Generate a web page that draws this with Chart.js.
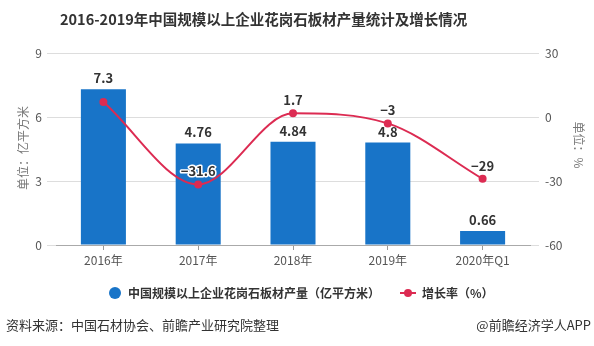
<!DOCTYPE html>
<html><head><meta charset="utf-8">
<script src="https://cdn.jsdelivr.net/npm/chart.js@4/dist/chart.umd.min.js"></script>
<style>html,body{margin:0;padding:0;background:#fff;}#wrap{width:594px;height:346px;position:relative;}</style>
</head><body><div id="wrap"><canvas id="c" width="594" height="346"></canvas></div>
<script>
const categories = ['2016年', '2017年', '2018年', '2019年', '2020年Q1'];
const output = [7.3, 4.76, 4.84, 4.8, 0.66];
const growth = [7, -31.6, 1.7, -3, -29];
const growthLabels = [null, '−31.6', '1.7', '−3', '−29'];
const leftTicks = [0, 3, 6, 9];
const rightTicks = [-60, -30, 0, 30];
const titleText = '2016-2019年中国规模以上企业花岗石板材产量统计及增长情况';
const seriesNames = ['中国规模以上企业花岗石板材产量（亿平方米）', '增长率（%）'];
const sourceText = '资料来源：中国石材协会、前瞻产业研究院整理';
const brandText = '@前瞻经济学人APP';

const BLUE = '#1874c8', RED = '#dc2b52';
const FONT = '"Noto Sans CJK SC", "Microsoft YaHei", sans-serif';

const decor = {
  id: 'decor',
  afterDatasetsDraw(chart) {
    const ctx = chart.ctx;
    ctx.save();
    const mb = chart.getDatasetMeta(1);
    ctx.font = 'bold 13px ' + FONT;
    ctx.fillStyle = '#333';
    ctx.textAlign = 'center';
    ctx.textBaseline = 'alphabetic';
    mb.data.forEach((el, i) => {
      ctx.fillText(String(output[i]), el.x, el.y - 6);
    });
    const ml = chart.getDatasetMeta(0);
    ml.data.forEach((el, i) => {
      const t = growthLabels[i];
      if (!t) return;
      ctx.textBaseline = 'middle';
      ctx.lineWidth = 3;
      ctx.strokeStyle = '#fff';
      ctx.lineJoin = 'round';
      ctx.strokeText(t, el.x, el.y - 13);
      ctx.fillStyle = '#333';
      ctx.fillText(t, el.x, el.y - 13);
    });
    ctx.restore();
  },
  afterDraw(chart) {
    const ctx = chart.ctx;
    ctx.save();
    ctx.fillStyle = '#333';
    ctx.font = 'bold 14.5px ' + FONT;
    ctx.textAlign = 'left';
    ctx.textBaseline = 'middle';
    ctx.fillText(titleText, 60, 19);
    ctx.fillStyle = '#777';
    ctx.font = '12px ' + FONT;
    ctx.save();
    ctx.translate(23, 148);
    ctx.rotate(-Math.PI / 2);
    ctx.textAlign = 'center';
    ctx.fillText('单位：亿平方米', 0, 0);
    ctx.restore();
    ctx.save();
    ctx.translate(579, 145);
    ctx.rotate(Math.PI / 2);
    ctx.textAlign = 'center';
    ctx.fillText('单位：%', 0, 0);
    ctx.restore();
    ctx.fillStyle = BLUE;
    ctx.beginPath(); ctx.arc(115, 293, 6, 0, Math.PI * 2); ctx.fill();
    ctx.fillStyle = '#333';
    ctx.font = 'bold 12px ' + FONT;
    ctx.textAlign = 'left';
    ctx.fillText(seriesNames[0], 128, 293);
    ctx.strokeStyle = RED; ctx.lineWidth = 2;
    ctx.beginPath(); ctx.moveTo(400, 293); ctx.lineTo(416, 293); ctx.stroke();
    ctx.fillStyle = RED;
    ctx.beginPath(); ctx.arc(408, 293, 4, 0, Math.PI * 2); ctx.fill();
    ctx.fillStyle = '#333';
    ctx.fillText(seriesNames[1], 422, 293);
    ctx.font = '13px ' + FONT;
    ctx.fillStyle = '#333';
    ctx.fillText(sourceText, 6, 325);
    ctx.textAlign = 'right';
    ctx.fillText(brandText, 591, 325);
    ctx.restore();
  }
};

new Chart(document.getElementById('c'), {
  data: {
    labels: categories,
    datasets: [
      {
        type: 'line', label: seriesNames[1], data: growth, yAxisID: 'y1', order: 0,
        borderColor: RED, backgroundColor: RED, borderWidth: 2, cubicInterpolationMode: 'monotone',
        pointRadius: 4, pointBackgroundColor: RED, pointBorderWidth: 0, clip: false
      },
      {
        type: 'bar', label: seriesNames[0], data: output, yAxisID: 'y', order: 1,
        backgroundColor: BLUE, categoryPercentage: 1, barPercentage: 0.475
      }
    ]
  },
  options: {
    responsive: false, animation: false, devicePixelRatio: 1,
    layout: { padding: { left: 0, right: 0, top: 53, bottom: 0 } },
    plugins: { legend: { display: false }, tooltip: { enabled: false }, title: { display: false } },
    scales: {
      x: {
        offset: true,
        grid: { offset: false, drawOnChartArea: false, drawTicks: true, tickLength: 5, color: '#999' },
        border: { display: true, color: '#aaa' },
        ticks: { color: '#555', font: { size: 12, family: FONT }, padding: 3 },
        afterFit(s) { s.height = 101; }
      },
      y: {
        position: 'left', min: 0, max: 9,
        afterBuildTicks(s) { s.ticks = leftTicks.map(v => ({ value: v })); },
        grid: { color: '#ddd', tickLength: 9 },
        border: { display: false },
        ticks: { color: '#555', font: { size: 12, family: FONT }, padding: 5 },
        afterFit(s) { s.width = 56; }
      },
      y1: {
        position: 'right', min: -60, max: 30,
        afterBuildTicks(s) { s.ticks = rightTicks.map(v => ({ value: v })); },
        grid: { drawOnChartArea: false, color: '#ddd', tickLength: 9 },
        border: { display: false },
        ticks: { color: '#555', font: { size: 12, family: FONT }, padding: 6 },
        afterFit(s) { s.width = 64; }
      }
    }
  },
  plugins: [decor]
});
</script>
</body></html>
